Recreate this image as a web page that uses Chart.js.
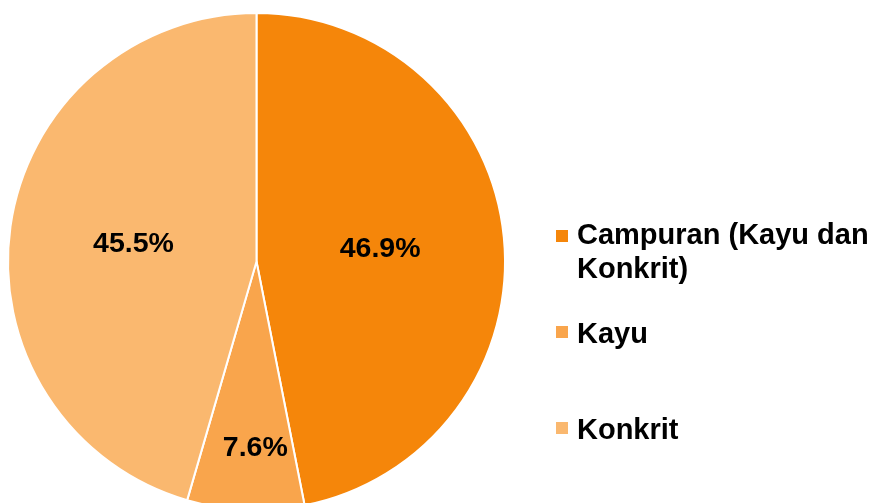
<!DOCTYPE html>
<html lang="en">
<head>
    <meta charset="UTF-8">
    <title>Jenis Rumah</title>
    <script src="https://cdn.jsdelivr.net/npm/chart.js"></script>
    <style>
        html, body { margin: 0; padding: 0; background: #fff; overflow: hidden; }
        #wrap { position: relative; width: 873px; height: 503px; overflow: hidden; }
        canvas { display: block; }
    </style>
</head>
<body>
<div id="wrap">
    <canvas id="pieChart" width="873" height="523"></canvas>
</div>
<script>
    // data
    const categories = ["Campuran (Kayu dan Konkrit)", "Kayu", "Konkrit"];
    const legendLines = [["Campuran (Kayu dan", "Konkrit)"], ["Kayu"], ["Konkrit"]];
    const percentages = [46.9, 7.6, 45.5];
    const sliceColors = ["#F5860A", "#F9A54C", "#FAB86F"];

    const LABEL_FONT = "bold 28.5px 'Liberation Sans', Arial, sans-serif";
    const LEGEND_FONT = "bold 29px 'Liberation Sans', Arial, sans-serif";

    // percent labels inside slices
    const sliceLabels = {
        id: "sliceLabels",
        afterDatasetsDraw(chart) {
            const ctx = chart.ctx;
            const meta = chart.getDatasetMeta(0);
            ctx.save();
            ctx.font = LABEL_FONT;
            ctx.fillStyle = "#000";
            ctx.textAlign = "center";
            ctx.textBaseline = "middle";
            meta.data.forEach((arc, i) => {
                const p = arc.getProps(["x", "y", "startAngle", "endAngle", "outerRadius"], true);
                const mid = (p.startAngle + p.endAngle) / 2;
                const small = percentages[i] < 10;
                const f = small ? 0.75 : 0.5;
                let x = p.x + Math.cos(mid) * p.outerRadius * f;
                const y = p.y + Math.sin(mid) * p.outerRadius * f;
                if (small) x += 7; // nudge, excel-style placement
                ctx.fillText(percentages[i].toFixed(1) + "%", x, y);
            });
            ctx.restore();
        }
    };

    // legend on the right, drawn by hand to allow wrapped text
    const sideLegend = {
        id: "sideLegend",
        afterDraw(chart) {
            const ctx = chart.ctx;
            const baselines = [244, 343, 439];
            const boxTops = [230, 326, 422];
            ctx.save();
            ctx.font = LEGEND_FONT;
            ctx.textBaseline = "alphabetic";
            ctx.textAlign = "left";
            legendLines.forEach((lines, i) => {
                ctx.fillStyle = sliceColors[i];
                ctx.fillRect(556, boxTops[i], 12, 12);
                ctx.fillStyle = "#000";
                lines.forEach((t, j) => {
                    ctx.fillText(t, 577, baselines[i] + j * 33.5);
                });
            });
            ctx.restore();
        }
    };

    new Chart(document.getElementById("pieChart"), {
        type: "pie",
        data: {
            labels: categories,
            datasets: [{
                data: percentages,
                backgroundColor: sliceColors,
                borderColor: "#ffffff",
                borderWidth: 2,
                radius: 248.5
            }]
        },
        options: {
            responsive: false,
            animation: false,
            layout: { padding: { left: 0, right: 360, top: 0, bottom: 0 } },
            plugins: {
                legend: { display: false },
                tooltip: { enabled: false }
            }
        },
        plugins: [sliceLabels, sideLegend]
    });
</script>
</body>
</html>
